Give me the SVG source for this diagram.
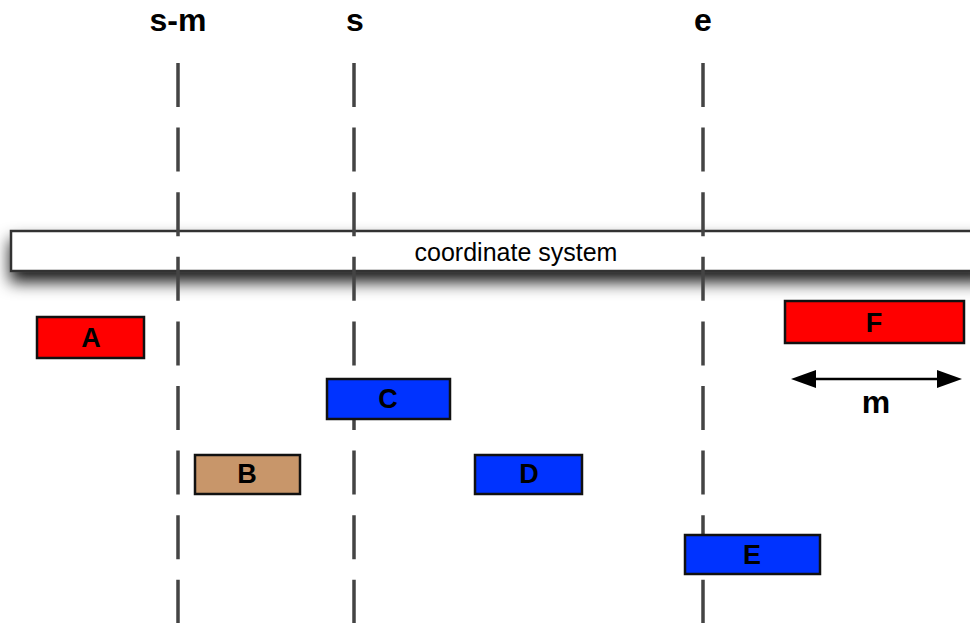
<svg xmlns="http://www.w3.org/2000/svg" width="970" height="623" viewBox="0 0 970 623">
  <defs>
    <filter id="barShadow" x="-5%" y="-50%" width="110%" height="260%">
      <feDropShadow dx="0" dy="10" stdDeviation="8" flood-color="#000" flood-opacity="0.9"/>
    </filter>
    <marker id="head" viewBox="0 0 25 18" refX="16" refY="9" markerWidth="25" markerHeight="18" markerUnits="userSpaceOnUse" orient="auto-start-reverse">
      <path d="M0,0 L25,9 L0,18 z" fill="#000"/>
    </marker>
  </defs>
  <style>
    .lbl { font-family: "Liberation Sans", Arial, sans-serif; font-weight: bold; font-size: 32px; fill: #000; text-anchor: middle; }
    .box { stroke: #111; stroke-width: 2.5; }
    .boxtxt { font-family: "Liberation Sans", Arial, sans-serif; font-weight: bold; font-size: 27px; fill: #000; text-anchor: middle; }
    .guide { stroke: #444; stroke-width: 3.5; stroke-dasharray: 44 20.6; fill: none; }
    .red { fill: #ff0000; }
    .blue { fill: #0033ff; }
    .tan { fill: #c8966a; }
  </style>
  <rect width="970" height="623" fill="#fff"/>

  <g id="coordinate-system">
    <rect x="11" y="231" width="975" height="40" fill="#fff" stroke="#333" stroke-width="2.5" filter="url(#barShadow)"/>
    <text x="516" y="261" font-family="'Liberation Sans', Arial, sans-serif" font-size="25" text-anchor="middle" fill="#000">coordinate system</text>
  </g>

  <g id="labels">
    <text class="lbl" x="178" y="31">s-m</text>
    <text class="lbl" x="355" y="31">s</text>
    <text class="lbl" x="703" y="31">e</text>
  </g>

  <g id="connectors">
    <line class="guide" x1="178" y1="63" x2="178" y2="623"/>
    <line class="guide" x1="354" y1="63" x2="354" y2="623"/>
    <line class="guide" x1="703" y1="63" x2="703" y2="623"/>
    <line x1="800" y1="379" x2="953" y2="379" stroke="#000" stroke-width="2.5" marker-start="url(#head)" marker-end="url(#head)"/>
    <text class="lbl" x="876" y="413">m</text>
  </g>

  <g id="A">
    <rect class="box red" x="37" y="317" width="107" height="41"/>
    <text class="boxtxt" x="91" y="347">A</text>
  </g>
  <g id="B">
    <rect class="box tan" x="195" y="455" width="105" height="39"/>
    <text class="boxtxt" x="247" y="483">B</text>
  </g>
  <g id="C">
    <rect class="box blue" x="327" y="379" width="123" height="40"/>
    <text class="boxtxt" x="388" y="408">C</text>
  </g>
  <g id="D">
    <rect class="box blue" x="475" y="455" width="107" height="39"/>
    <text class="boxtxt" x="529" y="483">D</text>
  </g>
  <g id="E">
    <rect class="box blue" x="685" y="535" width="135" height="39"/>
    <text class="boxtxt" x="752" y="564">E</text>
  </g>
  <g id="F">
    <rect class="box red" x="785" y="301" width="179" height="42"/>
    <text class="boxtxt" x="874" y="332">F</text>
  </g>
</svg>
